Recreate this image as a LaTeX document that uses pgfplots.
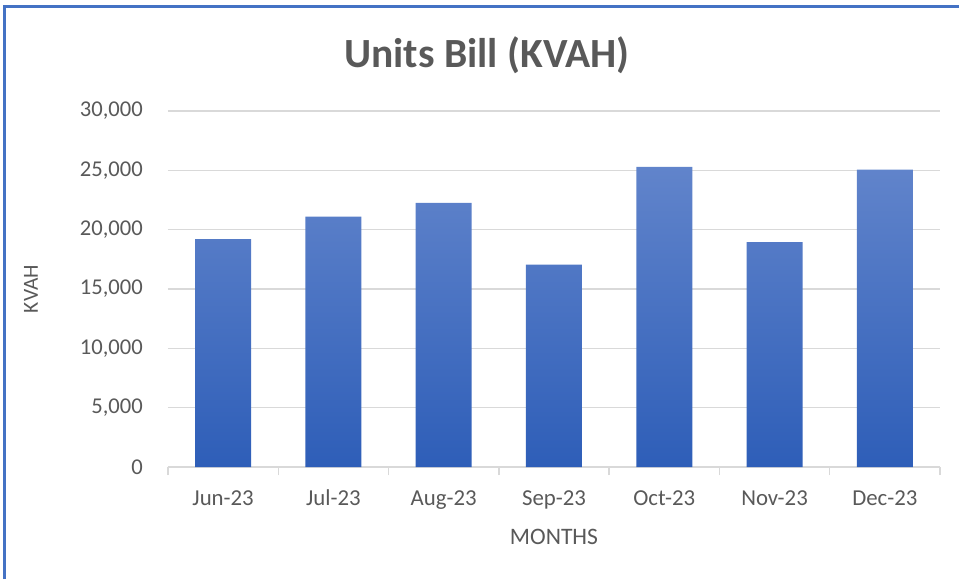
\documentclass[border=0pt]{standalone}
\usepackage{pgfplots}
\pgfplotsset{compat=1.18}
\usepackage{fontspec}
\setmainfont{Carlito}
\definecolor{txtgray}{HTML}{595959}
\definecolor{gridgray}{HTML}{D9D9D9}
\definecolor{barTop}{HTML}{6184CB}
\definecolor{barBot}{HTML}{2E5EB8}
\definecolor{frameblue}{HTML}{4472C4}
\begin{document}
\begin{tikzpicture}
\path[use as bounding box] (-168pt,-112pt) rectangle (791pt,467pt);
\draw[frameblue, line width=3pt] (-163.5pt,-112pt) -- (-163.5pt,460.5pt) -- (791pt,460.5pt);
\begin{axis}[
  scale only axis,
  width=772pt, height=356pt,
  xmin=-0.5, xmax=6.5,
  ymin=0, ymax=30000,
  ytick={0,5000,10000,15000,20000,25000,30000},
  xtick={0,1,2,3,4,5,6},
  xticklabels={Jun-23,Jul-23,Aug-23,Sep-23,Oct-23,Nov-23,Dec-23},
  minor xtick={-0.5,0.5,1.5,2.5,3.5,4.5,5.5,6.5},
  tick align=outside,
  minor tick length=8pt,
  major tick length=0pt,
  major x tick style={draw=none},
  minor x tick style={draw=gridgray, line width=1.3pt},
  ytick style={draw=none},
  axis x line*=bottom,
  axis y line*=left,
  x axis line style={draw=gridgray, line width=1.3pt},
  y axis line style={draw=none},
  ymajorgrids,
  major grid style={draw=gridgray, line width=1.3pt},
  scaled y ticks=false,
  /pgf/number format/assume math mode=true,
  yticklabel style={/pgf/number format/fixed, /pgf/number format/1000 sep={,}, anchor=east, inner sep=0pt, xshift=-25pt, font=\fontsize{22.6}{26}\selectfont, text=txtgray},
  xticklabel style={anchor=base, inner sep=0pt, yshift=-38pt, font=\fontsize{22.8}{26}\selectfont, text=txtgray},
  xlabel={MONTHS},
  ylabel={KVAH},
  xlabel style={at={(axis description cs:0.5,0)}, anchor=base, inner sep=0pt, yshift=-77pt, font=\fontsize{23.6}{28}\selectfont, text=txtgray},
  ylabel style={at={(axis description cs:-0.1775,0.5)}, anchor=center, inner sep=0pt, font=\fontsize{21.5}{26}\selectfont, text=txtgray},
  title={Units Bill (KVAH)},
  title style={at={(axis description cs:0.413,1)}, anchor=center, inner sep=0pt, yshift=50pt, font=\fontsize{41.5}{48}\selectfont\bfseries, text=txtgray},
  clip=false,
]
\addplot[ybar, bar width=56pt, draw=none, top color=barTop, bottom color=barBot]
  coordinates {(0,19200) (1,21100) (2,22250) (3,17050) (4,25300) (5,18950) (6,25050)};
\end{axis}
\end{tikzpicture}
\end{document}
